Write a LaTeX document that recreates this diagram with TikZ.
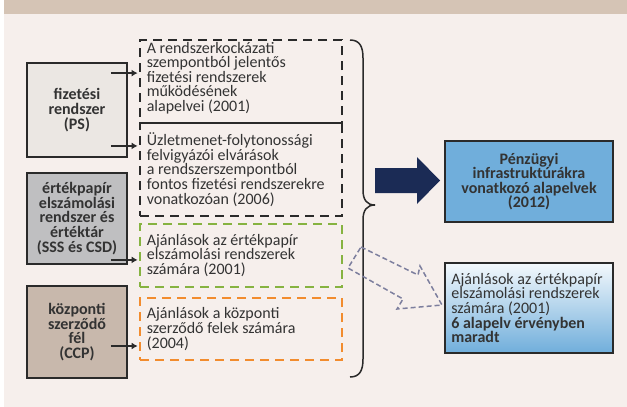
\documentclass[tikz,border=0pt]{standalone}
\usepackage{fontspec}
\setmainfont{Carlito}
\usetikzlibrary{positioning,arrows.meta}
\definecolor{bandtan}{HTML}{D5C4B5}
\definecolor{paper}{HTML}{F6EFEC}
\definecolor{psgray}{HTML}{EBE7E3}
\definecolor{sssgray}{HTML}{BFBFC1}
\definecolor{ccptan}{HTML}{C8B8AC}
\definecolor{edge}{HTML}{2A2A2A}
\definecolor{txt}{HTML}{333333}
\definecolor{dgreen}{HTML}{86B341}
\definecolor{dorange}{HTML}{F28C2E}
\definecolor{navy}{HTML}{1B2B55}
\definecolor{skyblue}{HTML}{70AEDB}
\definecolor{hollow}{HTML}{7D7F9E}
\begin{document}
\begin{tikzpicture}[x=1pt,y=-1pt,
	font=\fontsize{16}{14.6}\selectfont,
	kind/.style={draw=edge,line width=1.8pt,minimum width=100pt,inner sep=0pt,align=center,
		font=\fontsize{16}{14.6}\selectfont\bfseries,text=txt},
	guide/.style={draw,line width=1.8pt,dash pattern=on 9pt off 6pt,minimum width=202pt,inner sep=0pt},
	note/.style={inner sep=0pt,align=left,text=txt},
	conn/.style={line width=1.3pt,edge,shorten >=1.5pt,-{Latex[length=6pt,width=7pt]}}]
	\useasboundingbox (0,0) rectangle (627,407);
	\fill[white] (0,0) rectangle (627,407);
	\fill[bandtan] (3.5,0) rectangle (627,14);% heading band
	\fill[paper] (3.5,14) rectangle (627,407);

	% infrastructure types
	\node[kind,fill=psgray,minimum height=94pt] (ps) at (77,110) {fizetési\\rendszer\\(PS)};
	\node[kind,fill=sssgray,minimum height=91pt] (sss) at (77,218.5) {értékpapír\\elszámolási\\rendszer és\\értéktár\\(SSS és CSD)};
	\node[kind,fill=ccptan,minimum height=92pt] (ccp) at (77,332) {központi\\szerződő\\fél\\(CCP)};

	% earlier standards
	\node[guide,draw=edge,minimum height=83pt] (pol1) at (241,81.5) {};
	\node[guide,draw=edge,minimum height=93pt] (pol2) at (241,169.5) {};
	\node[guide,draw=dgreen,minimum height=63pt] (pol3) at (241,255.5) {};
	\node[guide,draw=dorange,minimum height=62pt] (pol4) at (241,329) {};
	\node[note,right=7.5pt of pol1.west,yshift=3.5pt] (txt1) {A rendszerkockázati\\szempontból jelentős\\fizetési rendszerek\\működésének\\alapelvei (2001)};
	\node[note,right=7.5pt of pol2.west] (txt2) {Üzletmenet-folytonossági\\felvigyázói elvárások\\a rendszerszempontból\\fontos fizetési rendszerekre\\vonatkozóan (2006)};
	\node[note,right=7.5pt of pol3.west] (txt3) {Ajánlások az értékpapír\\elszámolási rendszerek\\számára (2001)};
	\node[note,right=7.5pt of pol4.west] (txt4) {Ajánlások a központi\\szerződő felek számára\\(2004)};

	\coordinate (s1) at ([xshift=-17pt,yshift=-11pt]ps.north east);
	\coordinate (s2) at ([xshift=-17pt,yshift=12pt]ps.south east);
	\coordinate (s3) at ([xshift=-17pt,yshift=5pt]sss.south east);
	\coordinate (s4) at ([xshift=-17pt,yshift=-14pt]ccp.east);
	\draw[conn] (s1) -- (s1 -| pol1.west);
	\draw[conn] (s2) -- (s2 -| pol2.west);
	\draw[conn] (s3) -- (s3 -| pol3.west);
	\draw[conn] (s4) -- (s4 -| pol4.west);

	% brace
	\coordinate (btop) at (350,40);
	\coordinate (btip) at (375,205);
	\coordinate (bbot) at (350,377);
	\draw[edge,line width=1.5pt] (btop) .. controls (360,40) and (363,47) .. (363,58) -- (363,190)
		.. controls (363,200) and (367,205) .. (btip) .. controls (367,205) and (363,210) .. (363,220)
		-- (363,359) .. controls (363,370) and (360,377) .. (bbot);

	% results
	\node[draw=edge,line width=1.8pt,fill=skyblue,minimum width=168pt,minimum height=81pt,align=center,
		font=\fontsize{16}{14.6}\selectfont\bfseries,text=txt] (pfmi) at (529,181.5) {Pénzügyi\\infrastruktúrákra\\vonatkozó alapelvek\\(2012)};
	\node[draw=edge,line width=1.8pt,top color=white!92!skyblue,bottom color=skyblue,minimum width=168pt,minimum height=90pt] (rest) at (529,308) {};
	\node[note,right=7pt of rest.west] (txt5) {Ajánlások az értékpapír\\elszámolási rendszerek\\számára (2001)\\\textbf{6 alapelv érvényben}\\\textbf{maradt}};

	\fill[navy] (375,168) -- (417,168) -- (417,157) -- (440,180.5) -- (417,204) -- (417,193) -- (375,193) -- cycle;% big arrow
	\draw[hollow,line width=1.5pt,dash pattern=on 5pt off 3pt,line join=miter] (361,247) -- (418,275) -- (420,266) -- (442,305)
		-- (397,309) -- (403,299) -- (348,268) -- cycle;
\end{tikzpicture}
\end{document}
